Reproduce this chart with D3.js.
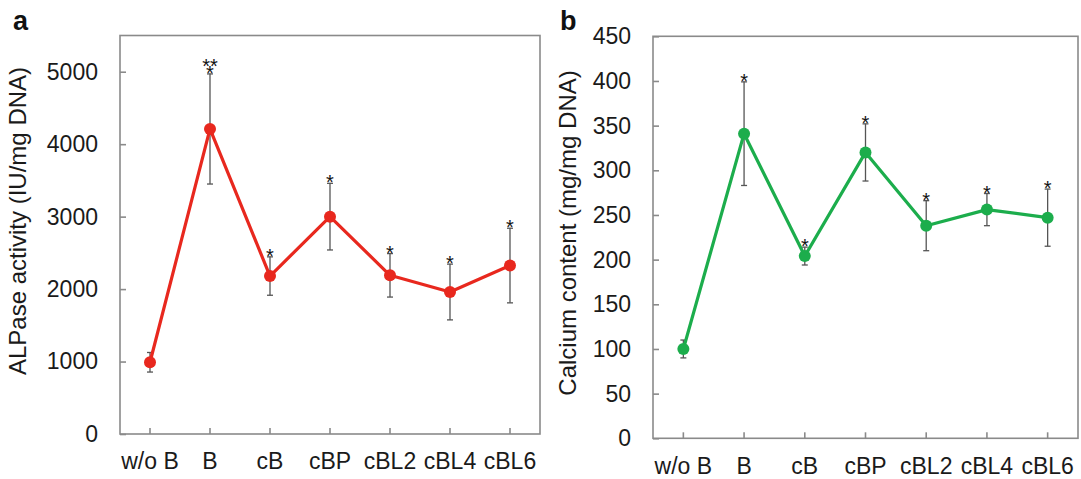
<!DOCTYPE html>
<html>
<head>
<meta charset="utf-8">
<script src="https://cdn.jsdelivr.net/npm/d3@7"></script>
<style>
  body { margin: 0; background: #fff; }
  svg { display: block; font-family: "Liberation Sans", Arial, sans-serif; }
</style>
</head>
<body>
<svg id="chart"></svg>
<script>
// groups on the x axis, same for both panels
const groups = ["w/o B", "B", "cB", "cBP", "cBL2", "cBL4", "cBL6"];

// panel a: ALPase activity
const alpMean = [990, 4210, 2180, 3000, 2190, 1960, 2325];
const alpErr = [135, 760, 265, 460, 300, 385, 515];
const alpStars = [0, 3, 1, 1, 1, 1, 1];
const alpTicks = [0, 1000, 2000, 3000, 4000, 5000];

// panel b: calcium content
const caMean = [100, 341, 204, 320, 238, 256, 247];
const caErr = [10, 58, 10, 32, 28, 18, 32];
const caStars = [0, 1, 1, 1, 1, 1, 1];
const caTicks = [0, 50, 100, 150, 200, 250, 300, 350, 400, 450];

const W = 1081, H = 479;

const svg = d3.select("#chart")
  .attr("width", W)
  .attr("height", H);

svg.append("rect").attr("width", W).attr("height", H).attr("fill", "#fff");

const drawPanel = (cfg) => {
  const x = d3.scaleBand()
    .domain(groups)
    .range([cfg.left, cfg.right]);

  const y = d3.scaleLinear()
    .domain([0, cfg.ymax])
    .range([cfg.bottom, cfg.top]);

  const g = svg.append("g");

  const rows = groups.map((k, i) => ({
    k: k, m: cfg.mean[i], e: cfg.err[i], s: cfg.stars[i]
  }));
  const cx = d => x(d.k) + x.bandwidth() / 2;

  // frame
  g.append("rect")
    .attr("x", cfg.left).attr("y", cfg.top)
    .attr("width", cfg.right - cfg.left)
    .attr("height", cfg.bottom - cfg.top)
    .attr("fill", "none")
    .attr("stroke", "#8a8a8a")
    .attr("stroke-width", 1.6);

  // y axis, ticks pointing inwards
  const yAxis = g.append("g")
    .attr("transform", `translate(${cfg.left},0)`)
    .call(d3.axisLeft(y)
      .tickValues(cfg.ticks)
      .tickFormat(d3.format("d"))
      .tickSizeInner(-6)
      .tickSizeOuter(0)
      .tickPadding(22));
  yAxis.select(".domain").remove();
  yAxis.selectAll(".tick line").attr("stroke", "#8a8a8a").attr("stroke-width", 1.6);
  yAxis.selectAll(".tick text")
    .attr("fill", "#1a1a1a")
    .style("font-size", "23px");

  // x axis
  const xAxis = g.append("g")
    .attr("transform", `translate(0,${cfg.bottom})`)
    .call(d3.axisBottom(x)
      .tickSizeInner(-6)
      .tickSizeOuter(0)
      .tickPadding(19));
  xAxis.select(".domain").remove();
  xAxis.selectAll(".tick line").attr("stroke", "#8a8a8a").attr("stroke-width", 1.6);
  xAxis.selectAll(".tick text")
    .attr("fill", "#1a1a1a")
    .style("font-size", "23px");

  // error bars
  const eb = g.selectAll(".eb")
    .data(rows)
    .enter()
    .append("g")
    .attr("class", "eb")
    .attr("stroke", "#555")
    .attr("stroke-width", 1.3);
  eb.append("line")
    .attr("x1", cx).attr("x2", cx)
    .attr("y1", d => y(d.m - d.e)).attr("y2", d => y(d.m + d.e));
  eb.append("line")
    .attr("x1", d => cx(d) - 3).attr("x2", d => cx(d) + 3)
    .attr("y1", d => y(d.m + d.e)).attr("y2", d => y(d.m + d.e));
  eb.append("line")
    .attr("x1", d => cx(d) - 3).attr("x2", d => cx(d) + 3)
    .attr("y1", d => y(d.m - d.e)).attr("y2", d => y(d.m - d.e));

  // line + markers
  const line = d3.line()
    .x(cx)
    .y(d => y(d.m));

  g.append("path")
    .datum(rows)
    .attr("d", line)
    .attr("fill", "none")
    .attr("stroke", cfg.color)
    .attr("stroke-width", 3.2)
    .attr("stroke-linejoin", "round");

  g.selectAll(".dot")
    .data(rows)
    .enter()
    .append("circle")
    .attr("class", "dot")
    .attr("cx", cx)
    .attr("cy", d => y(d.m))
    .attr("r", 6)
    .attr("fill", cfg.color);

  // significance stars ("**" over "*" for the triple one)
  const starTxt = (px, py, t) => g.append("text")
    .attr("x", px).attr("y", py)
    .attr("text-anchor", "middle")
    .attr("fill", "#111")
    .style("font-size", "20px")
    .text(t);

  rows.forEach(d => {
    const top = y(d.m + d.e) + 6;
    if (d.s === 1) {
      starTxt(cx(d), top, "*");
    } else if (d.s === 3) {
      starTxt(cx(d), top, "*");
      starTxt(cx(d), top - 7, "**");
    }
  });

  // y title
  g.append("text")
    .attr("transform", `translate(${cfg.titleX},${cfg.titleY}) rotate(-90)`)
    .attr("text-anchor", "middle")
    .attr("fill", "#1a1a1a")
    .style("font-size", "24px")
    .text(cfg.title);

  // panel letter
  g.append("text")
    .attr("x", cfg.letterX).attr("y", 30)
    .attr("fill", "#111")
    .style("font-size", "27px")
    .style("font-weight", "bold")
    .text(cfg.letter);
};

drawPanel({
  left: 120, right: 540, top: 35.5, bottom: 434,
  ymax: 5500, ticks: alpTicks,
  mean: alpMean, err: alpErr, stars: alpStars,
  color: "#e8281e",
  title: "ALPase activity (IU/mg DNA)", titleX: 26, titleY: 221,
  letter: "a", letterX: 13
});

drawPanel({
  left: 653, right: 1078, top: 36.3, bottom: 438.3,
  ymax: 450, ticks: caTicks,
  mean: caMean, err: caErr, stars: caStars,
  color: "#1cad4c",
  title: "Calcium content (mg/mg DNA)", titleX: 576, titleY: 233,
  letter: "b", letterX: 560
});
</script>
</body>
</html>
